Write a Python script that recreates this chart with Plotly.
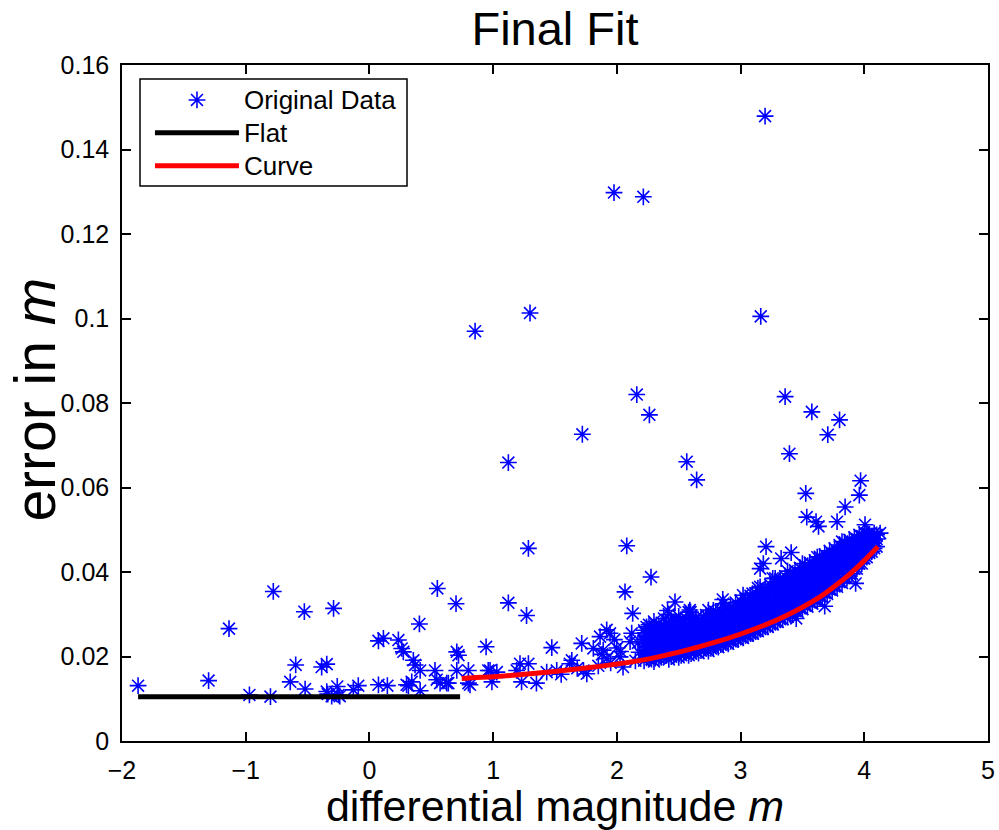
import plotly.graph_objects as go

# ---- sparse / outlying points (differential magnitude, error) ----
mag_left = [-1.87, -1.30, -1.135, -0.97, -0.80, -0.777, -0.64, -0.596, -0.526, -0.52,
            -0.386, -0.345, -0.337, -0.29, -0.26, -0.25, -0.345, -0.24, -0.305,
            -0.13, -0.09, 0.073, 0.113, 0.073, 0.145, 0.234, 0.261, 0.274, 0.315, 0.342,
            0.355, 0.369, 0.404, 0.41, 0.41, 0.549, 0.53, 0.544, 0.571, 0.638,
            0.70, 0.706, 0.72, 0.706, 0.80, 0.80, 0.943, 0.96, 0.99, 1.03, 0.625, 0.30]
err_left = [0.0131, 0.0143, 0.0266, 0.0109, 0.0105, 0.0354, 0.0140, 0.0180, 0.0306, 0.0123,
            0.0175, 0.0182, 0.0111, 0.0314, 0.0129, 0.0109, 0.0117, 0.0106, 0.0106,
            0.0121, 0.0131, 0.0237, 0.0243, 0.0133, 0.0131, 0.0239, 0.0219, 0.0211, 0.0131, 0.0140,
            0.0191, 0.0180, 0.0277, 0.0167, 0.0119, 0.0361, 0.0167, 0.0145, 0.0137, 0.0137,
            0.0325, 0.0211, 0.0203, 0.0167, 0.0167, 0.0137, 0.0223, 0.0167, 0.0140, 0.0163, 0.0137, 0.0133]

mag_mid = [1.123, 1.27, 1.474, 1.716, 2.066, 2.128, 1.918, 1.945, 1.864, 1.81,
           1.89, 1.636, 1.62, 1.217, 1.285, 1.19, 0.975, 1.433, 1.514, 1.73,
           2.026, 2.107, 0.813, 1.23, 1.35, 1.757, 1.55, 1.68, 1.95, 2.00,
           2.05, 2.15, 2.18, 1.85, 1.92, 2.12, 1.98, 1.88, 2.03, 2.17]
err_mid = [0.0327, 0.0297, 0.0221, 0.0231, 0.0353, 0.0302, 0.0263, 0.0255, 0.0247, 0.0219,
           0.0215, 0.0191, 0.0183, 0.0183, 0.0183, 0.0167, 0.0167, 0.0163, 0.0167, 0.0167,
           0.0199, 0.0235, 0.0133, 0.0140, 0.0137, 0.0159, 0.0158, 0.0172, 0.0185, 0.0220,
           0.0175, 0.0190, 0.0210, 0.0178, 0.0195, 0.0255, 0.0240, 0.0205, 0.0212, 0.0232]

mag_high = [3.198, 1.977, 2.214, 1.298, 0.854, 3.163, 2.161, 2.263, 1.721, 1.123,
            2.565, 3.36, 3.395, 3.576, 3.80, 3.705, 3.97, 2.645, 3.96, 3.527,
            3.845, 3.535, 3.61, 3.63, 3.78, 4.006, 4.128, 1.285, 2.08, 2.276,
            3.206, 3.184, 3.158, 3.328, 3.409, 3.158, 3.28, 3.096, 2.856, 2.47,
            2.41, 2.596, 2.78, 3.82, 2.59, 3.68, 3.93, 3.45]
err_high = [0.1479, 0.1298, 0.1288, 0.1013, 0.0970, 0.1005, 0.0820, 0.0772, 0.0726, 0.0659,
            0.0661, 0.0815, 0.0680, 0.0779, 0.0760, 0.0725, 0.0616, 0.0618, 0.0582, 0.0586,
            0.0554, 0.0530, 0.0519, 0.0508, 0.0519, 0.0512, 0.0492, 0.0456, 0.0462, 0.0388,
            0.0460, 0.0420, 0.0408, 0.0432, 0.0446, 0.0365, 0.0385, 0.0349, 0.0335, 0.0329,
            0.0309, 0.0305, 0.0309, 0.0472, 0.0310, 0.0319, 0.0373, 0.0290]

# ---- dense band of points along the fitted curve (interleaved sets of columns) ----
band_x = [2.22, 2.26, 2.30, 2.34, 2.38, 2.42, 2.46, 2.50, 2.54, 2.58,
          2.62, 2.66, 2.70, 2.74, 2.78, 2.82, 2.86, 2.90, 2.94, 2.98,
          3.02, 3.06, 3.10, 3.14, 3.18, 3.22, 3.26, 3.30, 3.34, 3.38,
          3.42, 3.46, 3.50, 3.54, 3.58, 3.62, 3.66, 3.70, 3.74, 3.78,
          3.82, 3.86, 3.90, 3.94, 3.98, 4.02, 4.06, 4.10]
band_y = [
    [0.0190, 0.0215, 0.0240, 0.0262],
    [0.0200, 0.0228, 0.0251, 0.0275],
    [0.0188, 0.0210, 0.0235, 0.0258, 0.0283],
    [0.0196, 0.0222, 0.0246, 0.0270],
    [0.0205, 0.0230, 0.0254, 0.0290],
    [0.0193, 0.0218, 0.0240, 0.0262, 0.0300],
    [0.0202, 0.0226, 0.0250, 0.0275],
    [0.0198, 0.0220, 0.0244, 0.0268, 0.0295],
    [0.0206, 0.0232, 0.0256, 0.0280],
    [0.0203, 0.0226, 0.0250, 0.0272, 0.0305],
    [0.0210, 0.0236, 0.0260, 0.0285],
    [0.0208, 0.0230, 0.0254, 0.0278],
    [0.0215, 0.0240, 0.0264, 0.0290],
    [0.0213, 0.0236, 0.0258, 0.0282, 0.0310],
    [0.0220, 0.0246, 0.0270, 0.0295],
    [0.0222, 0.0244, 0.0266, 0.0290],
    [0.0228, 0.0252, 0.0276, 0.0300, 0.0325],
    [0.0230, 0.0256, 0.0280, 0.0305],
    [0.0236, 0.0260, 0.0285, 0.0312],
    [0.0240, 0.0266, 0.0292, 0.0318],
    [0.0244, 0.0270, 0.0296, 0.0322, 0.0345],
    [0.0250, 0.0276, 0.0300, 0.0328],
    [0.0254, 0.0282, 0.0308, 0.0335],
    [0.0260, 0.0286, 0.0314, 0.0340, 0.0362],
    [0.0266, 0.0292, 0.0320, 0.0348],
    [0.0270, 0.0298, 0.0326, 0.0354],
    [0.0276, 0.0304, 0.0332, 0.0360, 0.0385],
    [0.0282, 0.0310, 0.0338, 0.0366],
    [0.0288, 0.0316, 0.0345, 0.0372],
    [0.0294, 0.0322, 0.0350, 0.0378, 0.0402],
    [0.0300, 0.0328, 0.0356, 0.0385],
    [0.0306, 0.0335, 0.0364, 0.0392],
    [0.0312, 0.0342, 0.0370, 0.0398, 0.0420],
    [0.0318, 0.0348, 0.0376, 0.0404],
    [0.0325, 0.0355, 0.0384, 0.0410],
    [0.0332, 0.0362, 0.0390, 0.0418, 0.0435],
    [0.0340, 0.0370, 0.0398, 0.0425],
    [0.0348, 0.0378, 0.0406, 0.0432],
    [0.0356, 0.0386, 0.0414, 0.0440],
    [0.0365, 0.0395, 0.0422, 0.0448],
    [0.0374, 0.0404, 0.0430, 0.0455],
    [0.0385, 0.0414, 0.0440, 0.0462],
    [0.0396, 0.0424, 0.0450, 0.0470],
    [0.0408, 0.0436, 0.0460, 0.0478],
    [0.0420, 0.0448, 0.0470, 0.0485],
    [0.0435, 0.0460, 0.0478, 0.0490],
    [0.0448, 0.0470, 0.0485],
    [0.0460, 0.0478, 0.0488],
]
band2_x = [2.24, 2.28, 2.32, 2.36, 2.40, 2.44, 2.48, 2.52, 2.56, 2.60,
           2.64, 2.68, 2.72, 2.76, 2.80, 2.84, 2.88, 2.92, 2.96, 3.00,
           3.04, 3.08, 3.12, 3.16, 3.20, 3.24, 3.28, 3.32, 3.36, 3.40,
           3.44, 3.48, 3.52, 3.56, 3.60, 3.64, 3.68, 3.72, 3.76, 3.80,
           3.84, 3.88, 3.92, 3.96, 4.00, 4.04, 4.08]
band2_y = [
    [0.0197, 0.0222, 0.0248, 0.0270],
    [0.0194, 0.0218, 0.0242, 0.0266],
    [0.0201, 0.0226, 0.0250, 0.0275],
    [0.0198, 0.0224, 0.0248, 0.0272],
    [0.0203, 0.0228, 0.0252, 0.0278],
    [0.0200, 0.0226, 0.0250, 0.0284],
    [0.0205, 0.0230, 0.0255, 0.0280],
    [0.0203, 0.0228, 0.0252, 0.0276],
    [0.0210, 0.0236, 0.0262, 0.0290],
    [0.0207, 0.0232, 0.0256, 0.0280],
    [0.0213, 0.0238, 0.0264, 0.0292],
    [0.0214, 0.0240, 0.0266, 0.0288],
    [0.0220, 0.0245, 0.0270, 0.0298],
    [0.0219, 0.0243, 0.0268, 0.0294],
    [0.0226, 0.0252, 0.0278, 0.0305],
    [0.0228, 0.0254, 0.0280, 0.0308],
    [0.0234, 0.0260, 0.0288, 0.0315],
    [0.0236, 0.0263, 0.0290, 0.0318],
    [0.0242, 0.0270, 0.0298, 0.0328],
    [0.0246, 0.0274, 0.0302, 0.0332],
    [0.0250, 0.0280, 0.0308, 0.0336],
    [0.0254, 0.0284, 0.0314, 0.0344],
    [0.0260, 0.0290, 0.0320, 0.0350],
    [0.0265, 0.0296, 0.0326, 0.0355],
    [0.0272, 0.0302, 0.0332, 0.0362],
    [0.0276, 0.0308, 0.0340, 0.0370],
    [0.0282, 0.0314, 0.0346, 0.0376],
    [0.0288, 0.0320, 0.0352, 0.0382],
    [0.0295, 0.0328, 0.0360, 0.0390],
    [0.0300, 0.0334, 0.0366, 0.0396],
    [0.0308, 0.0340, 0.0372, 0.0404],
    [0.0314, 0.0348, 0.0380, 0.0410],
    [0.0320, 0.0354, 0.0386, 0.0416],
    [0.0328, 0.0362, 0.0394, 0.0422],
    [0.0334, 0.0368, 0.0400, 0.0428],
    [0.0342, 0.0376, 0.0408, 0.0436],
    [0.0350, 0.0384, 0.0416, 0.0442],
    [0.0358, 0.0392, 0.0424, 0.0450],
    [0.0366, 0.0400, 0.0432, 0.0456],
    [0.0376, 0.0410, 0.0440, 0.0464],
    [0.0386, 0.0418, 0.0448, 0.0470],
    [0.0396, 0.0428, 0.0456, 0.0476],
    [0.0408, 0.0440, 0.0466, 0.0482],
    [0.0420, 0.0450, 0.0474, 0.0488],
    [0.0432, 0.0460, 0.0482, 0.0494],
    [0.0445, 0.0470, 0.0488],
    [0.0456, 0.0476, 0.0492],
]
band3_x = [2.23, 2.27, 2.31, 2.35, 2.39, 2.43, 2.47, 2.51, 2.55, 2.59,
           2.63, 2.67, 2.71, 2.75, 2.79, 2.83, 2.87, 2.91, 2.95, 2.99,
           3.03, 3.07, 3.11, 3.15, 3.19, 3.23, 3.27, 3.31, 3.35, 3.39,
           3.43, 3.47, 3.51, 3.55, 3.59, 3.63, 3.67, 3.71, 3.75, 3.79,
           3.83, 3.87, 3.91, 3.95, 3.99, 4.03, 4.07]
band3_y = [
    [0.0205, 0.0232, 0.0256], [0.0208, 0.0236, 0.0262], [0.0196, 0.0222, 0.0268],
    [0.0210, 0.0236, 0.0260], [0.0214, 0.0242, 0.0268], [0.0208, 0.0234, 0.0272],
    [0.0212, 0.0238, 0.0264], [0.0210, 0.0236, 0.0284], [0.0216, 0.0244, 0.0270],
    [0.0214, 0.0240, 0.0264], [0.0220, 0.0248, 0.0274], [0.0222, 0.0248, 0.0272],
    [0.0226, 0.0252, 0.0280], [0.0226, 0.0250, 0.0276], [0.0232, 0.0258, 0.0284],
    [0.0234, 0.0262, 0.0298], [0.0240, 0.0268, 0.0294], [0.0242, 0.0270, 0.0296],
    [0.0250, 0.0278, 0.0304], [0.0252, 0.0280, 0.0308], [0.0258, 0.0288, 0.0316],
    [0.0262, 0.0292, 0.0320], [0.0268, 0.0298, 0.0326], [0.0274, 0.0304, 0.0334],
    [0.0280, 0.0310, 0.0340], [0.0284, 0.0316, 0.0346], [0.0290, 0.0322, 0.0352],
    [0.0296, 0.0328, 0.0358], [0.0304, 0.0336, 0.0368], [0.0310, 0.0342, 0.0374],
    [0.0316, 0.0350, 0.0380], [0.0322, 0.0356, 0.0388], [0.0330, 0.0364, 0.0394],
    [0.0336, 0.0370, 0.0400], [0.0344, 0.0378, 0.0408], [0.0350, 0.0384, 0.0414],
    [0.0358, 0.0392, 0.0422], [0.0366, 0.0400, 0.0428], [0.0374, 0.0408, 0.0436],
    [0.0384, 0.0416, 0.0444], [0.0394, 0.0426, 0.0452], [0.0404, 0.0436, 0.0460],
    [0.0416, 0.0446, 0.0468], [0.0428, 0.0456, 0.0476], [0.0440, 0.0466, 0.0484],
    [0.0452, 0.0474, 0.0490], [0.0462, 0.0480],
]

# ---- fitted lines ----
flat_x = [-1.87, 0.733]
flat_y = [0.0105, 0.0105]
curve_x = [0.746, 1.19, 1.73, 2.27, 2.81, 3.20, 3.35, 3.62, 3.75, 3.89, 4.00, 4.11]
curve_y = [0.0148, 0.0156, 0.0172, 0.0195, 0.0235, 0.0275, 0.0294, 0.0337, 0.0364, 0.0397, 0.0427, 0.0460]

x_ticks = [-2, -1, 0, 1, 2, 3, 4, 5]
y_ticks = [0, 0.02, 0.04, 0.06, 0.08, 0.1, 0.12, 0.14, 0.16]

# assemble scatter data
all_x = mag_left + mag_mid + mag_high
all_y = err_left + err_mid + err_high
for cols_x, cols_y in ((band_x, band_y), (band2_x, band2_y), (band3_x, band3_y)):
    for bx, ys in zip(cols_x, cols_y):
        for yv in ys:
            all_x.append(bx)
            all_y.append(yv)

FONT = "Liberation Sans, Arial, Helvetica, sans-serif"


def leg(name):
    return '<span style="font-size:26px">' + name + '</span>'


fig = go.Figure()
fig.add_trace(go.Scatter(
    x=all_x, y=all_y, mode="markers", name=leg("Original Data"),
    marker=dict(symbol="asterisk-open", size=14, color="#0000ff",
                line=dict(color="#0000ff", width=1.6)),
))
fig.add_trace(go.Scatter(
    x=flat_x, y=flat_y, mode="lines", name=leg("Flat"),
    line=dict(color="black", width=5),
))
fig.add_trace(go.Scatter(
    x=curve_x, y=curve_y, mode="lines", name=leg("Curve"), line_shape="spline",
    line=dict(color="#ff0000", width=5),
))

axis_common = dict(
    showline=True, linecolor="black", linewidth=1.5, mirror="ticks",
    ticks="inside", ticklen=9, tickwidth=1.5, tickcolor="black",
    showgrid=False, zeroline=False, automargin=False,
    tickfont=dict(family=FONT, size=25, color="black"),
)

fig.update_layout(
    width=999, height=830,
    margin=dict(l=122, r=11, t=65, b=89),
    paper_bgcolor="white", plot_bgcolor="white",
    title=dict(text="Final Fit", xref="paper", x=0.5, xanchor="center",
               yref="container", y=0.966, yanchor="middle",
               font=dict(family=FONT, size=47, color="black")),
    xaxis=dict(range=[-2, 5], tickvals=x_ticks, ticklabelstandoff=6,
               title=dict(text="differential magnitude <i>m</i>", standoff=5,
                          font=dict(family=FONT, size=43, color="black")),
               **axis_common),
    yaxis=dict(range=[0, 0.16], tickvals=y_ticks, ticklabelstandoff=6,
               **axis_common),
    annotations=[dict(text="error in <i>m</i>", xref="paper", yref="paper",
                      x=-0.1005, y=0.505, xanchor="center", yanchor="middle",
                      textangle=-90, showarrow=False,
                      font=dict(family=FONT, size=57, color="black"))],
    shapes=[dict(type="rect", xref="paper", yref="paper",
                 x0=0.0208, x1=0.3291, y0=0.8210, y1=0.9793,
                 line=dict(color="black", width=1.5), fillcolor="white", layer="below")],
    showlegend=True,
    legend=dict(x=0.0323, y=0.980, xanchor="left", yanchor="top",
                bgcolor="rgba(0,0,0,0)", borderwidth=0,
                font=dict(family=FONT, size=23, color="black"),
                itemwidth=84, tracegroupgap=0),
)

fig.write_html("out.html")
